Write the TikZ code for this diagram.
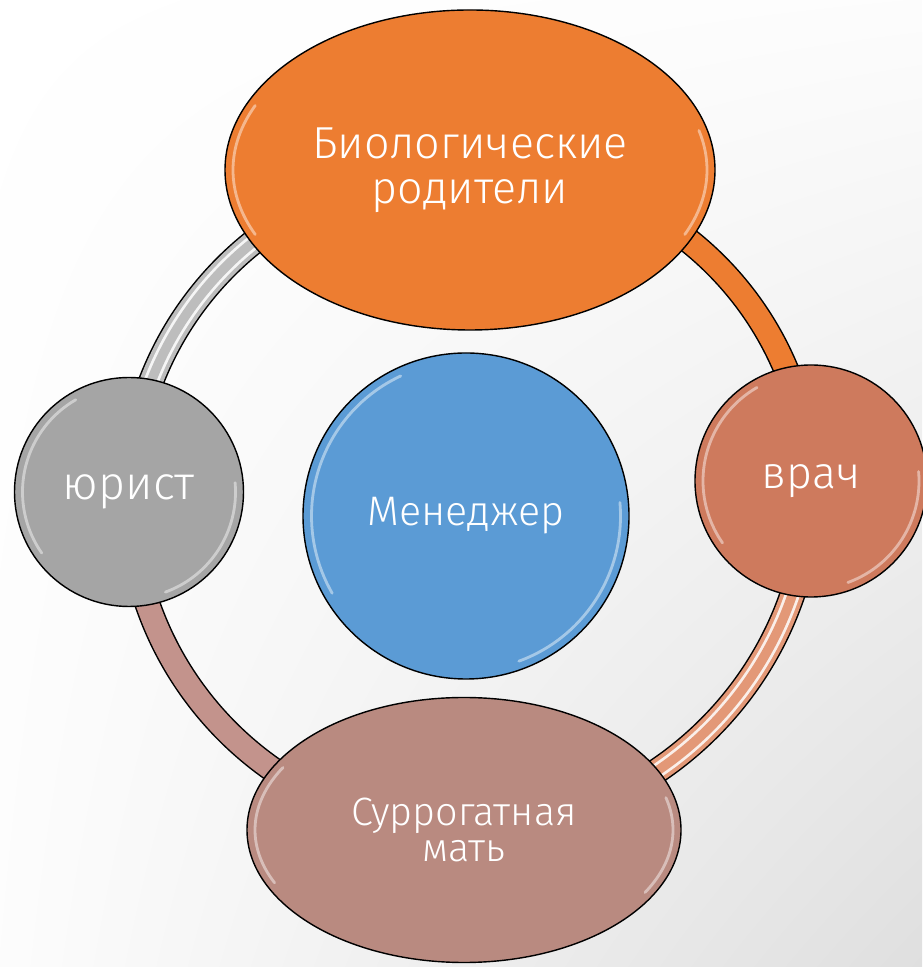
\documentclass[tikz,border=0pt]{standalone}
\usepackage{fontspec}
\setmainfont{Fira Sans Light}
\usetikzlibrary{shapes.geometric,shadings}

\definecolor{bioorange}{HTML}{ED7D31}
\definecolor{lawgray}{HTML}{A5A5A5}
\definecolor{docred}{HTML}{CE7A5D}
\definecolor{mgrblue}{HTML}{5B9BD5}
\definecolor{surrpink}{HTML}{B98A80}
\definecolor{ringgray}{HTML}{BDBDBD}
\definecolor{ringsalmon}{HTML}{E39877}
\definecolor{ringpink}{HTML}{C3938C}

\pgfdeclarelayer{back}
\pgfdeclarelayer{ring}
\pgfsetlayers{back,ring,main}

\tikzset{
	role/.style={draw=black, line width=0.8pt, text=white, align=center, inner sep=0pt},
	rolecircle/.style={role, circle},
	roleellipse/.style={role, ellipse},
	band/.style={draw=#1, line width=0.46cm, preaction={draw=black, line width=0.52cm}},
	stripes/.style={postaction={draw=white, line width=0.30cm, opacity=0.85}, postaction={draw=#1, line width=0.19cm}},
	gloss/.style={white, opacity=0.45, line width=1.6pt, line cap=round}
}

\begin{document}
\begin{tikzpicture}
	\useasboundingbox (0,0) rectangle (18.44,19.34);
	
	% roles
	\node [roleellipse, fill=bioorange, minimum width=9.8cm, minimum height=6.4cm,
		font=\fontsize{25.5pt}{25.6pt}\selectfont] (bio) at (9.40, 15.94) {Биологические\\родители};
	\node [rolecircle, fill=lawgray, minimum size=4.58cm,
		font=\fontsize{26.5pt}{28pt}\selectfont] (law) at (2.58, 9.50) {юрист};
	\node [rolecircle, fill=docred, minimum size=4.64cm,
		font=\fontsize{25.5pt}{28pt}\selectfont] (doc) at (16.22, 9.72) {врач};
	\node [rolecircle, fill=mgrblue, minimum size=6.52cm,
		font=\fontsize{23.5pt}{25pt}\selectfont] (mgr) at (9.32, 9.02) {Менеджер};
	\node [roleellipse, fill=surrpink, minimum width=8.68cm, minimum height=5.3cm,
		font=\fontsize{22.5pt}{20.5pt}\selectfont] (surr) at (9.28, 2.74) {Суррогатная\\мать};
	
	% highlights
	\draw [gloss] ([shift={(155:4.74 and 3.05)}]bio.center) arc [start angle=155, end angle=205, x radius=4.74, y radius=3.05];
	\draw [gloss] ([shift={(-25:4.74 and 3.05)}]bio.center) arc [start angle=-25, end angle=15, x radius=4.74, y radius=3.05];
	\draw [gloss] ([shift={(120:2.13)}]law.center) arc [start angle=120, end angle=215, radius=2.13];
	\draw [gloss] ([shift={(-70:2.13)}]law.center) arc [start angle=-70, end angle=5, radius=2.13];
	\draw [gloss] ([shift={(120:2.16)}]doc.center) arc [start angle=120, end angle=215, radius=2.16];
	\draw [gloss] ([shift={(-70:2.16)}]doc.center) arc [start angle=-70, end angle=5, radius=2.16];
	\draw [gloss] ([shift={(115:3.09)}]mgr.center) arc [start angle=115, end angle=210, radius=3.09];
	\draw [gloss] ([shift={(-70:3.09)}]mgr.center) arc [start angle=-70, end angle=5, radius=3.09];
	\draw [gloss] ([shift={(150:4.18 and 2.50)}]surr.center) arc [start angle=150, end angle=205, x radius=4.18, y radius=2.50];
	\draw [gloss] ([shift={(-30:4.18 and 2.50)}]surr.center) arc [start angle=-30, end angle=15, x radius=4.18, y radius=2.50];
	
	% ring
	\begin{pgfonlayer}{ring}
		\draw [band=ringgray, stripes=ringgray] (law.center) to [bend left=45] (bio.center);
		\draw [band=bioorange] (bio.center) to [bend left=45] (doc.center);
		\draw [band=ringsalmon, stripes=ringsalmon] (doc.center) to [bend left=45] (surr.center);
		\draw [band=ringpink] (surr.center) to [bend left=45] (law.center);
	\end{pgfonlayer}
	
	\begin{pgfonlayer}{back}
		\shade [upper left=white, upper right=white!98!gray, lower left=white!98!gray, lower right=gray!25] (0,0) rectangle (18.44,19.34);
	\end{pgfonlayer}
\end{tikzpicture}
\end{document}
